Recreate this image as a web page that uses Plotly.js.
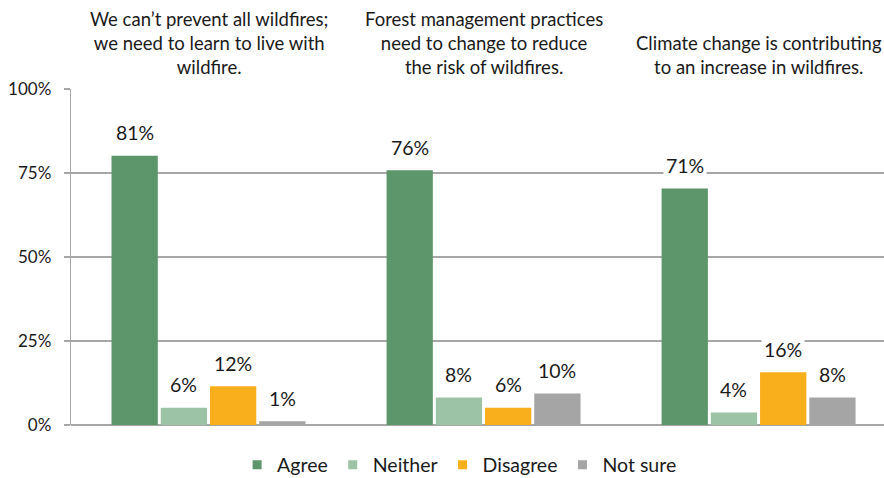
<!DOCTYPE html>
<html>
<head>
<meta charset="utf-8">
<script src="https://cdn.plot.ly/plotly-3.0.1.min.js"></script>
<style>html,body{margin:0;padding:0;background:#fff;}#chart{width:884px;height:478px;}</style>
</head>
<body>
<div id="chart"></div>
<script>
// ---- data ----
const categories = [
  "We can\u2019t prevent all wildfires;<br>we need to learn to live with<br>wildfire.",
  "Forest management practices<br>need to change to reduce<br>the risk of wildfires.",
  "Climate change is contributing<br>to an increase in wildfires."
];
const seriesNames = ["Agree", "Neither", "Disagree", "Not sure"];
const agree    = [80.1, 75.8, 70.4];
const neither  = [5.1, 8.2, 3.7];
const disagree = [11.5, 5.1, 15.7];
const notSure  = [1.1, 9.4, 8.2];
const agreeLabels    = ["81%", "76%", "71%"];
const neitherLabels  = ["6%", "8%", "4%"];
const disagreeLabels = ["12%", "6%", "16%"];
const notSureLabels  = ["1%", "10%", "8%"];
const yTickVals = [0, 25, 50, 75, 100];
const yTickText = ["0%", "25%", "50%", "75%", "100%"];

// ---- styling ----
const colors = ["#5C966A", "#9DC3A6", "#F9AE1B", "#A5A5A5"];
const FONT = "Lato, 'Open Sans', sans-serif";
const TXT = "#1a1a1a";
const values = [agree, neither, disagree, notSure];
const labels = [agreeLabels, neitherLabels, disagreeLabels, notSureLabels];

const catIdx = categories.map((c, i) => i);
const traces = [];
values.forEach((v, s) => {
  traces.push({
    type: "bar", x: catIdx, y: v, name: seriesNames[s],
    marker: {color: colors[s], line: {width: 0}},
    showlegend: false, hoverinfo: "skip"
  });
});
// legend proxies (small square markers)
seriesNames.forEach((n, s) => {
  traces.push({
    type: "scatter", mode: "markers", x: [null], y: [null], name: n,
    marker: {symbol: "square", size: 9, color: colors[s]},
    showlegend: true
  });
});

const bargap = 0.284;
const slot = (1 - bargap) / 4;
const annotations = [];
values.forEach((v, s) => {
  v.forEach((val, i) => {
    annotations.push({
      x: i + (s - 1.5) * slot, y: val, xref: "x", yref: "y",
      text: labels[s][i], showarrow: false,
      yanchor: "middle", yshift: 23,
      bgcolor: "#ffffff", borderpad: 2,
      font: {family: FONT, size: 19.5, color: TXT}
    });
  });
});
categories.forEach((c, i) => {
  annotations.push({
    x: i, y: 1, xref: "x", yref: "paper",
    text: c, showarrow: false, yanchor: "bottom", yshift: 9,
    align: "center",
    font: {family: FONT, size: 18.5, color: TXT}
  });
});

const layout = {
  width: 884, height: 478,
  margin: {l: 71, r: 0, t: 89, b: 53, autoexpand: false},
  paper_bgcolor: "#ffffff", plot_bgcolor: "#ffffff",
  barmode: "group", bargap: bargap, bargroupgap: 0.06,
  font: {family: FONT, size: 17, color: TXT},
  xaxis: {
    type: "linear", range: [-0.5, 2.456], showticklabels: false,
    showgrid: false, zeroline: false, showline: false, ticks: "",
    fixedrange: true
  },
  yaxis: {
    range: [0, 100], tickvals: yTickVals, ticktext: yTickText,
    showgrid: true, gridcolor: "#A6A6A6", gridwidth: 1.3,
    zeroline: true, zerolinecolor: "#A6A6A6", zerolinewidth: 1.3,
    showline: true, linecolor: "#A6A6A6", linewidth: 1.3,
    ticks: "outside", ticklen: 6, tickcolor: "#A6A6A6", tickwidth: 1.3,
    ticklabelstandoff: 9,
    tickfont: {family: FONT, size: 17, color: TXT},
    fixedrange: true
  },
  showlegend: true,
  legend: {
    orientation: "h", x: 0.478, xanchor: "center",
    yref: "container", y: 13 / 478, yanchor: "middle",
    font: {family: FONT, size: 19.5, color: TXT},
    itemwidth: 30, tracegroupgap: 0, bgcolor: "rgba(0,0,0,0)"
  },
  annotations: annotations
};

Plotly.newPlot("chart", traces, layout, {displayModeBar: false, staticPlot: true});
</script>
</body>
</html>
